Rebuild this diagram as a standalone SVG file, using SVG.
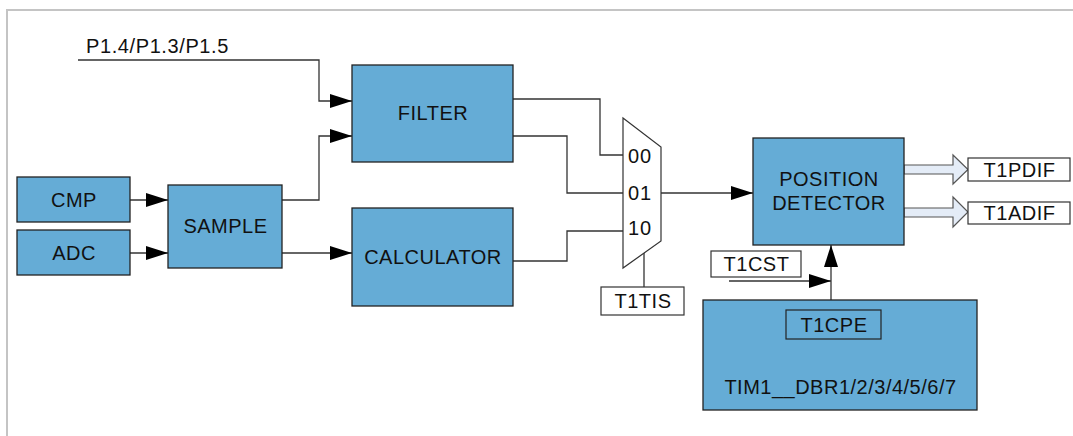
<svg xmlns="http://www.w3.org/2000/svg" width="1073" height="436" viewBox="0 0 1073 436">
<style>
.blk{fill:#65acd6;stroke:#222;stroke-width:1.3}
.lbl{fill:#fff;stroke:#333;stroke-width:1.2}
.t{font-family:"Liberation Sans",Arial,sans-serif;font-size:20px;letter-spacing:0.5px;fill:#111;text-anchor:middle;dominant-baseline:central}
.m{font-family:"Liberation Sans",Arial,sans-serif;font-size:20px;letter-spacing:1px;fill:#111;dominant-baseline:central}
.w{fill:none;stroke:#333;stroke-width:1.3}
.hol{fill:#e4ecf7;stroke:#555;stroke-width:1.2}
</style>
<defs>
<marker id="ah" viewBox="0 0 22 14" refX="22" refY="7" markerWidth="22" markerHeight="14" markerUnits="userSpaceOnUse" orient="auto">
<path d="M0,0 L22,7 L0,14 Z" fill="#000"/>
</marker>
</defs>
<rect width="1073" height="436" fill="#fff"/>
<path d="M7,436 V10 H1073" fill="none" stroke="#c4c4c4" stroke-width="2"/>

<g id="connectors">
<text x="86" y="53" font-family="Liberation Sans,Arial,sans-serif" font-size="20" letter-spacing="0.6" fill="#111">P1.4/P1.3/P1.5</text>
<path class="w" d="M78,60 H319 V101 H352" marker-end="url(#ah)"/>
<path class="w" d="M282,200 H319 V136 H352" marker-end="url(#ah)"/>
<path class="w" d="M130,200 H168" marker-end="url(#ah)"/>
<path class="w" d="M130,253 H168" marker-end="url(#ah)"/>
<path class="w" d="M282,253 H352" marker-end="url(#ah)"/>
<path class="w" d="M513,99 H600 V155 H623"/>
<path class="w" d="M513,136 H567 V193 H623"/>
<path class="w" d="M513,261 H567 V231 H623"/>
<path class="w" d="M661,193 H753" marker-end="url(#ah)"/>
<path class="w" d="M644,249 V287"/>
<path class="w" d="M729,281 H831" marker-end="url(#ah)"/>
<path class="w" d="M831,300 V245" marker-end="url(#ah)"/>
<path class="hol" d="M904,165 H953 V155 L968,169.5 L953,184 V174 H904 Z"/>
<path class="hol" d="M904,208 H953 V197 L968,212 L953,227 V217 H904 Z"/>
</g>

<g id="cmp"><rect class="blk" x="17" y="177" width="113" height="45"/><text class="t" x="74" y="199.5">CMP</text></g>
<g id="adc"><rect class="blk" x="17" y="230" width="113" height="45"/><text class="t" x="74" y="252.5">ADC</text></g>
<g id="sample"><rect class="blk" x="168" y="185" width="114" height="83"/><text class="t" x="225.5" y="226">SAMPLE</text></g>
<g id="filter"><rect class="blk" x="352" y="65" width="161" height="97"/><text class="t" x="433" y="113">FILTER</text></g>
<g id="calculator"><rect class="blk" x="352" y="208" width="161" height="98"/><text class="t" x="433" y="257">CALCULATOR</text></g>

<g id="mux">
<path d="M623,118 L661,147 V241 L623,268 Z" fill="#fff" stroke="#333" stroke-width="1.2"/>
<text class="m" x="628" y="156">00</text>
<text class="m" x="628" y="193">01</text>
<text class="m" x="628" y="228">10</text>
</g>
<g id="t1tis"><rect class="lbl" x="601" y="287" width="83" height="28"/><text class="t" x="643" y="301">T1TIS</text></g>

<g id="posdet"><rect class="blk" x="753" y="138" width="151" height="107"/>
<text class="t" x="829" y="179">POSITION</text><text class="t" x="829" y="203">DETECTOR</text></g>
<g id="t1pdif"><rect class="lbl" x="968" y="158" width="102" height="23"/><text class="t" x="1019.5" y="169.5">T1PDIF</text></g>
<g id="t1adif"><rect class="lbl" x="968" y="202" width="102" height="22"/><text class="t" x="1019.5" y="213">T1ADIF</text></g>
<g id="t1cst"><rect class="lbl" x="711" y="251" width="90" height="26"/><text class="t" x="756.5" y="264">T1CST</text></g>

<g id="tim1"><rect class="blk" x="703" y="300" width="274" height="110"/>
<rect x="786" y="310" width="95" height="29" fill="none" stroke="#222" stroke-width="1.2"/>
<text class="t" x="834" y="324.5">T1CPE</text>
<text class="t" x="840.5" y="387">TIM1__DBR1/2/3/4/5/6/7</text></g>
</svg>
